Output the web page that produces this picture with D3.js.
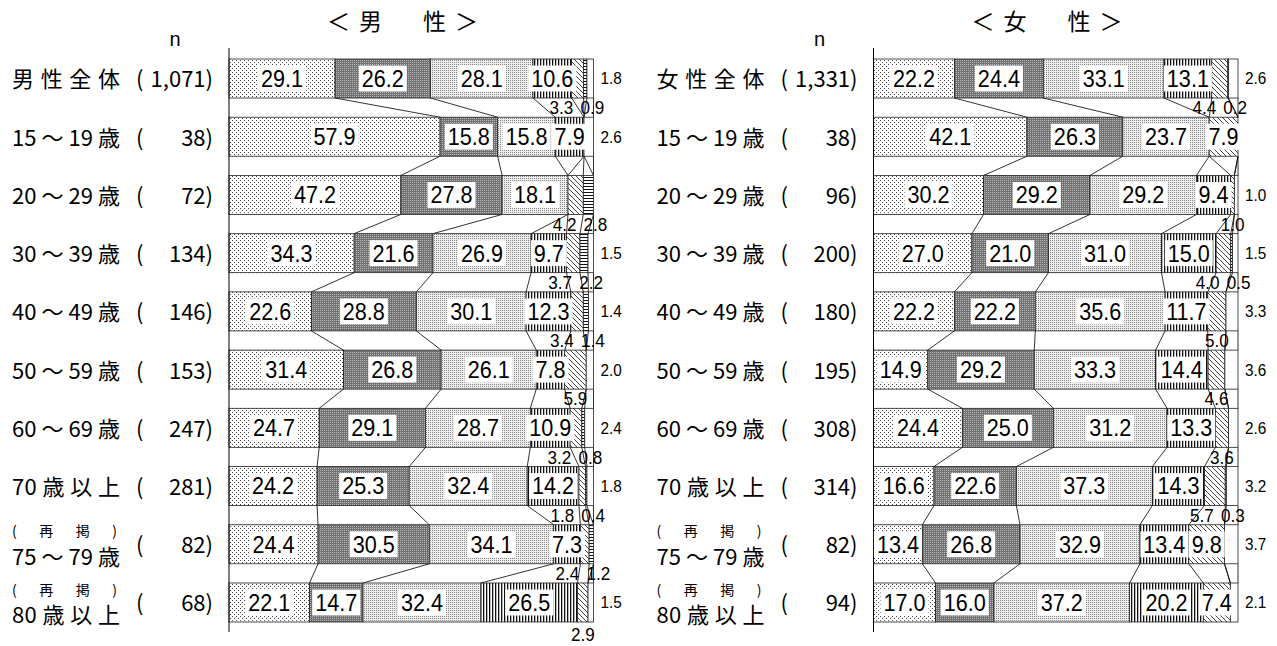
<!DOCTYPE html>
<html>
<head>
<meta charset="utf-8">
<script src="https://cdn.jsdelivr.net/npm/d3@7"></script>
<style>
  body { margin: 0; background: #fff; }
  text { fill: #000; }
</style>
</head>
<body>
<script>
// row labels (first row differs per panel)
const ageGroups = ["15 ～ 19 歳", "20 ～ 29 歳", "30 ～ 39 歳", "40 ～ 49 歳", "50 ～ 59 歳",
                   "60 ～ 69 歳", "70 歳 以 上", "75 ～ 79 歳", "80 歳 以 上"];
const subLabels = ["", "", "", "", "", "", "", "", "(再掲)", "(再掲)"];
const maleLabels = ["男 性 全 体"].concat(ageGroups);
const femaleLabels = ["女 性 全 体"].concat(ageGroups);
const maleN = ["1,071", "38", "72", "134", "146", "153", "247", "281", "82", "68"];
const femaleN = ["1,331", "38", "96", "200", "180", "195", "308", "314", "82", "94"];

// seven answer categories in stack order, the last one is the blank (no answer) part
const maleValues = [
  [29.1, 26.2, 28.1, 10.6, 3.3, 0.9, 1.8],
  [57.9, 15.8, 15.8, 7.9, 0, 0, 2.6],
  [47.2, 27.8, 18.1, 0, 4.2, 2.8, 0],
  [34.3, 21.6, 26.9, 9.7, 3.7, 2.2, 1.5],
  [22.6, 28.8, 30.1, 12.3, 3.4, 1.4, 1.4],
  [31.4, 26.8, 26.1, 7.8, 5.9, 0, 2.0],
  [24.7, 29.1, 28.7, 10.9, 3.2, 0.8, 2.4],
  [24.2, 25.3, 32.4, 14.2, 1.8, 0.4, 1.8],
  [24.4, 30.5, 34.1, 7.3, 2.4, 1.2, 0],
  [22.1, 14.7, 32.4, 26.5, 2.9, 0, 1.5]
];
const femaleValues = [
  [22.2, 24.4, 33.1, 13.1, 4.4, 0.2, 2.6],
  [42.1, 26.3, 23.7, 0, 7.9, 0, 0],
  [30.2, 29.2, 29.2, 9.4, 1.0, 0, 1.0],
  [27.0, 21.0, 31.0, 15.0, 4.0, 0.5, 1.5],
  [22.2, 22.2, 35.6, 11.7, 5.0, 0, 3.3],
  [14.9, 29.2, 33.3, 14.4, 4.6, 0, 3.6],
  [24.4, 25.0, 31.2, 13.3, 3.6, 0, 2.6],
  [16.6, 22.6, 37.3, 14.3, 5.7, 0.3, 3.2],
  [13.4, 26.8, 32.9, 13.4, 9.8, 0, 3.7],
  [17.0, 16.0, 37.2, 20.2, 7.4, 0, 2.1]
];

const W = 1277, H = 646;
const jp = "'Noto Sans CJK JP', 'Noto Sans', sans-serif";
const num = "'Liberation Sans', Arial, sans-serif";
const fmt = d3.format(".1f");

const svg = d3.select("body").append("svg")
    .attr("width", W)
    .attr("height", H);

/**
 * PATTERNS
 */
const defs = svg.append("defs");

function makePattern(id, w, h, draw) {
    const p = defs.append("pattern")
        .attr("id", id)
        .attr("patternUnits", "userSpaceOnUse")
        .attr("width", w)
        .attr("height", h);
    draw(p);
}

function px(p, x, y, c) {
    p.append("rect").attr("x", x).attr("y", y).attr("width", 1).attr("height", 1).attr("fill", c);
}

// light sparse dots
makePattern("p0", 4, 4, p => {
    p.append("rect").attr("width", 4).attr("height", 4).attr("fill", "#fff");
    px(p, 0, 0, "#444");
    px(p, 2, 2, "#444");
});
// dark dense grey
makePattern("p1", 2, 2, p => {
    p.append("rect").attr("width", 2).attr("height", 2).attr("fill", "#707070");
    px(p, 0, 0, "#bdbdbd");
});
// medium fine dots
makePattern("p2", 2, 2, p => {
    p.append("rect").attr("width", 2).attr("height", 2).attr("fill", "#eee");
    px(p, 0, 0, "#888");
});
// vertical stripes
makePattern("p3", 3, 3, p => {
    p.append("rect").attr("width", 3).attr("height", 3).attr("fill", "#fff");
    p.append("rect").attr("width", 1.3).attr("height", 3).attr("fill", "#111");
});
// diagonal hatching
makePattern("p4", 5, 5, p => {
    p.append("rect").attr("width", 5).attr("height", 5).attr("fill", "#fff");
    p.append("path")
        .attr("d", "M-1,-1L6,6M-1,4L1,6M4,-1L6,1")
        .attr("stroke", "#444")
        .attr("stroke-width", 1);
});
// horizontal stripes
makePattern("p5", 3, 3, p => {
    p.append("rect").attr("width", 3).attr("height", 3).attr("fill", "#fff");
    p.append("rect").attr("width", 3).attr("height", 1).attr("fill", "#111");
});

const fills = ["url(#p0)", "url(#p1)", "url(#p2)", "url(#p3)", "url(#p4)", "url(#p5)", "#fff"];

/**
 * LABELS
 */
function numLabel(g, x, y, value, size, anchor, boxed) {
    const t = g.append("text")
        .attr("transform", `translate(${x},${y}) scale(0.9,1)`)
        .attr("text-anchor", anchor)
        .attr("dy", "0.35em")
        .style("font-family", num)
        .style("font-size", size + "px")
        .text(fmt(value));
    if (boxed) {
        const w = t.node().getComputedTextLength() * 0.9 + 6;
        const h = size * 1.08;
        g.insert("rect", () => t.node())
            .attr("x", x - w / 2)
            .attr("y", y - h / 2)
            .attr("width", w)
            .attr("height", h)
            .attr("fill", "#fff");
    }
}

/**
 * PANEL
 */
function drawPanel(cfg) {
    const g = svg.append("g");
    const n = cfg.values.length;

    const x = d3.scaleLinear().domain([0, 1]).range([cfg.x0, cfg.x0 + 364.5]);
    const y = d3.scaleBand().domain(d3.range(n)).range([59, 622]).paddingInner(0.33);
    const bw = y.bandwidth();

    // 100% stacked
    const series = d3.stack()
        .keys(d3.range(7))
        .value((d, k) => d[k])
        .offset(d3.stackOffsetExpand)(cfg.values);

    // connector lines between neighbouring bars
    const links = [];
    for (let i = 0; i < n - 1; i++) {
        series.forEach(s => links.push([s[i][1], i, s[i + 1][1]]));
    }
    g.append("g").selectAll("line")
        .data(links)
        .join("line")
        .attr("x1", d => x(d[0]))
        .attr("y1", d => y(d[1]) + bw)
        .attr("x2", d => x(d[2]))
        .attr("y2", d => y(d[1] + 1))
        .attr("stroke", "#000")
        .attr("stroke-width", 0.8);

    // segments
    g.append("g").selectAll("g")
        .data(series)
        .join("g")
        .attr("fill", s => fills[s.key])
        .selectAll("rect")
        .data(s => s.map((d, i) => ({ d, i })).filter(e => e.d[1] - e.d[0] > 0))
        .join("rect")
        .attr("x", e => x(e.d[0]))
        .attr("y", e => y(e.i))
        .attr("width", e => x(e.d[1]) - x(e.d[0]))
        .attr("height", bw)
        .attr("stroke", "#222")
        .attr("stroke-width", 0.8);

    // axis line
    g.append("line")
        .attr("x1", cfg.x0).attr("x2", cfg.x0)
        .attr("y1", 48).attr("y2", 632)
        .attr("stroke", "#000")
        .attr("stroke-width", 1);

    // value labels
    const lg = g.append("g");
    cfg.values.forEach((vals, i) => {
        const cy = y(i) + bw / 2;
        const mid = k => x((series[k][i][0] + series[k][i][1]) / 2);
        for (let k = 0; k < 6; k++) {
            if (vals[k] >= 7) numLabel(lg, mid(k), cy, vals[k], 24, "middle", true);
        }
        // small parts go into the gap below the bar
        const gy = i < n - 1 ? y(i) + bw + (y.step() - bw) / 2 : y(i) + bw + 12;
        const s5 = vals[4], s6 = vals[5];
        if (s6 > 0 && s6 < 7) {
            const cx6 = mid(5) + 7;
            numLabel(lg, cx6, gy, s6, 19, "middle", false);
            if (s5 > 0 && s5 < 7) numLabel(lg, cx6 - 19, gy, s5, 19, "end", false);
        } else if (s5 > 0 && s5 < 7) {
            numLabel(lg, mid(4), gy, s5, 19, "middle", false);
        }
        // no answer: right of the bar
        if (vals[6] > 0) numLabel(lg, x(1) + 7, cy, vals[6], 17, "start", false);
    });

    // row labels
    const rg = g.append("g").style("font-family", jp).style("font-size", "22px");
    cfg.labels.forEach((name, i) => {
        const cy = y(i) + bw / 2 + 1;
        const sub = subLabels[i];
        rg.append("text")
            .attr("x", cfg.x0 - 217)
            .attr("y", sub ? cy + 12 : cy)
            .attr("dy", "0.36em")
            .attr("textLength", 108)
            .attr("lengthAdjust", "spacing")
            .style("white-space", "pre")
            .text(name);
        if (sub) {
            rg.append("text")
                .attr("x", cfg.x0 - 217)
                .attr("y", cy - 14)
                .attr("dy", "0.36em")
                .attr("textLength", 105)
                .attr("lengthAdjust", "spacing")
                .style("font-size", "14px")
                .text(sub);
        }
        rg.append("text")
            .attr("x", cfg.x0 - 93)
            .attr("y", cy)
            .attr("dy", "0.36em")
            .text("(");
        rg.append("text")
            .attr("x", cfg.x0 - 16)
            .attr("y", cy)
            .attr("dy", "0.36em")
            .attr("text-anchor", "end")
            .text(cfg.n[i] + ")");
    });

    // headers
    g.append("text")
        .attr("x", cfg.x0 - 54)
        .attr("y", 39)
        .attr("dy", "0.35em")
        .attr("text-anchor", "middle")
        .style("font-family", num)
        .style("font-size", "20px")
        .text("n");
    g.append("text")
        .attr("x", cfg.x0 + 98)
        .attr("y", 22)
        .attr("dy", "0.36em")
        .attr("textLength", 151)
        .attr("lengthAdjust", "spacing")
        .style("font-family", jp)
        .style("font-size", "23px")
        .text(cfg.title);
}

drawPanel({ x0: 229, labels: maleLabels, n: maleN, values: maleValues, title: "＜男　性＞" });
drawPanel({ x0: 873.5, labels: femaleLabels, n: femaleN, values: femaleValues, title: "＜女　性＞" });
</script>
</body>
</html>
